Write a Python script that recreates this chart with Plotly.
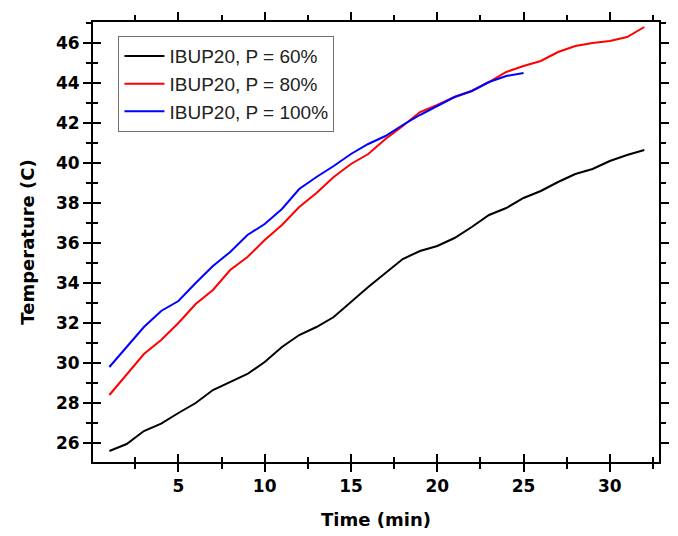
import plotly.graph_objects as go

time_60 = list(range(1, 33))
temp_60 = [25.6, 25.95, 26.6, 26.97, 27.5, 28.0, 28.65, 29.05, 29.45, 30.05,
           30.8, 31.4, 31.8, 32.3, 33.05, 33.8, 34.5, 35.2, 35.6, 35.85,
           36.25, 36.8, 37.4, 37.75, 38.25, 38.6, 39.05, 39.45, 39.7, 40.1,
           40.4, 40.65]

time_80 = list(range(1, 33))
temp_80 = [28.4, 29.4, 30.45, 31.15, 32.0, 32.95, 33.65, 34.65, 35.3, 36.15,
           36.9, 37.8, 38.5, 39.3, 39.95, 40.45, 41.2, 41.85, 42.55, 42.9,
           43.3, 43.6, 44.05, 44.55, 44.85, 45.1, 45.55, 45.85, 46.0, 46.1,
           46.3, 46.8]

time_100 = list(range(1, 26))
temp_100 = [29.8, 30.8, 31.8, 32.6, 33.1, 34.0, 34.85, 35.55, 36.4, 36.95,
            37.7, 38.7, 39.3, 39.85, 40.45, 40.95, 41.35, 41.9, 42.4, 42.85,
            43.3, 43.6, 44.05, 44.35, 44.5]

names = ["IBUP20, P = 60%", "IBUP20, P = 80%", "IBUP20, P = 100%"]
colors = ["#000000", "#ff0000", "#0000ff"]

x_range = [0.05, 32.85]
y_range = [25.05, 47.05]

fig = go.Figure()
for xs, ys, nm, c in zip([time_60, time_80, time_100],
                         [temp_60, temp_80, temp_100], names, colors):
    fig.add_trace(go.Scatter(x=xs, y=ys, mode="lines", name=nm,
                             line=dict(color=c, width=2)))

# invisible trace for overlay axes (inside ticks)
fig.add_trace(go.Scatter(x=[x_range[0]], y=[y_range[0]], xaxis="x2", yaxis="y2",
                         mode="markers", marker=dict(opacity=0), showlegend=False,
                         hoverinfo="skip"))

tickfont = dict(family="DejaVu Sans", size=17, color="black", weight="bold")
titlefont = dict(family="DejaVu Sans", size=18, color="black", weight="bold")

fig.update_layout(
    width=678, height=536,
    margin=dict(l=93, r=9, t=22, b=74),
    paper_bgcolor="white", plot_bgcolor="white",
    showlegend=True,
    legend=dict(x=0.045, y=0.968, xanchor="left", yanchor="top",
                bgcolor="white", bordercolor="#707070", borderwidth=1,
                font=dict(family="Liberation Sans", size=19, color="#222"),
                tracegroupgap=0, itemwidth=40),
    xaxis=dict(range=x_range, dtick=5, tick0=0, showgrid=False, zeroline=False,
               showline=True, linecolor="black", linewidth=2, mirror="allticks",
               ticks="outside", ticklen=8, tickwidth=1.5, tickcolor="black",
               minor=dict(dtick=2.5, tick0=0, ticks="outside", ticklen=5,
                          tickwidth=1.5, tickcolor="black", showgrid=False),
               tickfont=tickfont,
               title=dict(text="Time (min)", standoff=18, font=titlefont)),
    yaxis=dict(range=y_range, dtick=2, tick0=0, showgrid=False, zeroline=False,
               showline=True, linecolor="black", linewidth=2, mirror="allticks",
               ticks="outside", ticklen=8, tickwidth=1.5, tickcolor="black",
               minor=dict(dtick=1, tick0=0, ticks="outside", ticklen=5,
                          tickwidth=1.5, tickcolor="black", showgrid=False),
               tickfont=tickfont,
               title=dict(text="Temperature (C)", standoff=17, font=titlefont)),
    xaxis2=dict(range=x_range, overlaying="x", side="bottom", dtick=5, tick0=0,
                showgrid=False, zeroline=False, showticklabels=False,
                ticks="inside", ticklen=8, tickwidth=1.5, tickcolor="black",
                minor=dict(dtick=2.5, tick0=0, ticks="inside", ticklen=5,
                           tickwidth=1.5, tickcolor="black")),
    yaxis2=dict(range=y_range, overlaying="y", side="left", dtick=2, tick0=0,
                showgrid=False, zeroline=False, showticklabels=False,
                ticks="inside", ticklen=8, tickwidth=1.5, tickcolor="black",
                minor=dict(dtick=1, tick0=0, ticks="inside", ticklen=5,
                           tickwidth=1.5, tickcolor="black")),
)

fig.write_html("out.html")
